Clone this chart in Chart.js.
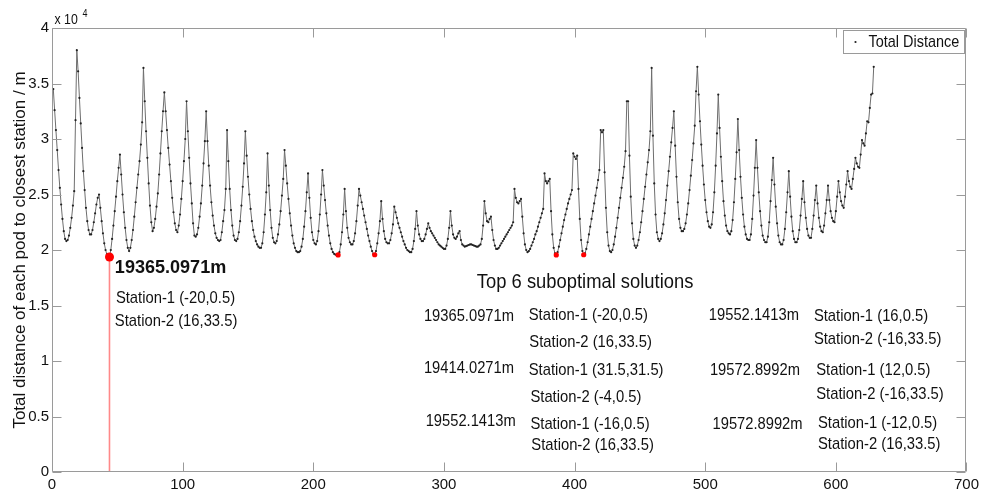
<!DOCTYPE html>
<html>
<head>
    <title>Total distance of each pod to closest station</title>
    <script src="https://cdn.jsdelivr.net/npm/chart.js"></script>
    <style>
        body {
            margin: 0;
            background-color: #ffffff;
        }
    </style>
</head>
<body>
    <canvas id="chart1" width="983" height="493"></canvas>

    <script>
        // Total distance (x 10^4 m) for each candidate station pair, index 1..629
        const distA = [3.45, 3.26, 3.08, 2.90, 2.72, 2.56, 2.41, 2.28, 2.17, 2.10,
            2.08, 2.09, 2.13, 2.20, 2.29, 2.40, 2.53, 3.17, 3.80, 3.61,
            3.37, 3.14, 2.92, 2.71, 2.54, 2.38, 2.26, 2.18, 2.14, 2.14,
            2.18, 2.25, 2.33, 2.41, 2.47, 2.50, 2.38, 2.26, 2.15, 2.06,
            2.00, 1.96, 1.94, 1.9365, 2.00, 2.10, 2.22, 2.35, 2.48, 2.62,
            2.74, 2.86, 2.68, 2.50, 2.34, 2.20, 2.09, 2.02, 1.99, 2.02,
            2.09, 2.18, 2.30, 2.43, 2.56, 2.68, 2.80, 2.95, 3.15, 3.64,
            3.34, 3.07, 2.83, 2.60, 2.40, 2.25, 2.17, 2.20, 2.28, 2.39,
            2.51, 2.68, 2.87, 3.07, 3.25, 3.42, 3.25, 3.08, 2.92, 2.77,
            2.62, 2.47, 2.34, 2.24, 2.18, 2.16, 2.22, 2.32, 2.46, 2.62];
        const distB = [2.80, 3.00, 3.34, 3.07, 2.83, 2.60, 2.42, 2.24, 2.13, 2.12,
            2.14, 2.20, 2.30, 2.42, 2.58, 2.78, 2.98, 3.25, 2.98, 2.76,
            2.58, 2.43, 2.31, 2.22, 2.15, 2.11, 2.09, 2.08, 2.09, 2.16,
            2.26, 2.36, 2.55, 3.08, 2.80, 2.55, 2.36, 2.22, 2.13, 2.09,
            2.08, 2.10, 2.16, 2.26, 2.40, 2.57, 2.78, 3.07, 2.85, 2.66,
            2.50, 2.37, 2.26, 2.18, 2.12, 2.08, 2.05, 2.03, 2.02, 2.02,
            2.06, 2.16, 2.32, 2.52, 2.87, 2.58, 2.36, 2.20, 2.11, 2.07,
            2.06, 2.08, 2.14, 2.23, 2.35, 2.49, 2.64, 2.90, 2.76, 2.60,
            2.46, 2.33, 2.22, 2.13, 2.06, 2.02, 1.99, 1.98, 1.98, 1.99,
            2.03, 2.10, 2.21, 2.35, 2.52, 2.69, 2.47, 2.29, 2.16, 2.09];
        const distC = [2.06, 2.05, 2.08, 2.17, 2.32, 2.50, 2.72, 2.58, 2.45, 2.33,
            2.22, 2.13, 2.06, 2.01, 1.98, 1.965, 1.958, 1.956, 1.9552, 1.98,
            2.05, 2.16, 2.32, 2.55, 2.35, 2.20, 2.11, 2.07, 2.05, 2.05,
            2.08, 2.15, 2.26, 2.40, 2.55, 2.49, 2.43, 2.37, 2.31, 2.25,
            2.19, 2.13, 2.08, 2.03, 1.99, 1.965, 1.9573, 1.99, 2.06, 2.15,
            2.26, 2.44, 2.28, 2.17, 2.10, 2.07, 2.06, 2.06, 2.09, 2.15,
            2.23, 2.39, 2.34, 2.29, 2.24, 2.20, 2.16, 2.12, 2.08, 2.05,
            2.02, 2.00, 1.99, 1.98, 1.98, 2.01, 2.08, 2.19, 2.35, 2.22,
            2.14, 2.10, 2.08, 2.08, 2.10, 2.14, 2.19, 2.24, 2.20, 2.17,
            2.15, 2.13, 2.11, 2.09, 2.07, 2.05, 2.04, 2.03, 2.02, 2.01];
        const distD = [2.01, 2.04, 2.10, 2.20, 2.35, 2.22, 2.14, 2.11, 2.10, 2.12,
            2.15, 2.17, 2.09, 2.05, 2.04, 2.03, 2.035, 2.04, 2.045, 2.05,
            2.05, 2.045, 2.04, 2.035, 2.03, 2.03, 2.04, 2.05, 2.10, 2.22,
            2.44, 2.33, 2.26, 2.25, 2.28, 2.30, 2.18, 2.09, 2.04, 2.01,
            2.01, 2.02, 2.04, 2.06, 2.08, 2.10, 2.12, 2.14, 2.16, 2.18,
            2.20, 2.22, 2.25, 2.55, 2.47, 2.43, 2.42, 2.44, 2.46, 2.30,
            2.15, 2.05, 2.00, 1.98, 1.99, 2.01, 2.04, 2.07, 2.10, 2.14,
            2.17, 2.21, 2.25, 2.29, 2.33, 2.37, 2.69, 2.62, 2.60, 2.62,
            2.64, 2.35, 2.14, 2.02, 1.97, 1.9552, 1.98, 2.03, 2.09, 2.15,
            2.21, 2.27, 2.32, 2.37, 2.42, 2.46, 2.50, 2.54, 2.87, 2.84];
        const distE = [2.82, 2.85, 2.55, 2.28, 2.09, 1.99, 1.9573, 1.97, 2.01, 2.07,
            2.14, 2.21, 2.28, 2.35, 2.42, 2.49, 2.56, 2.63, 2.72, 3.08,
            3.06, 3.08, 2.70, 2.38, 2.16, 2.04, 1.99, 1.98, 2.00, 2.05,
            2.12, 2.20, 2.29, 2.38, 2.47, 2.56, 2.65, 2.75, 2.89, 3.34,
            3.34, 2.85, 2.48, 2.24, 2.10, 2.04, 2.02, 2.04, 2.09, 2.16,
            2.25, 2.35, 2.46, 2.57, 2.68, 2.79, 2.90, 3.07, 3.64, 3.03,
            2.60, 2.32, 2.16, 2.10, 2.08, 2.10, 2.15, 2.23, 2.33, 2.45,
            2.58, 2.71, 2.84, 2.97, 3.10, 3.25, 2.94, 2.66, 2.43, 2.28,
            2.20, 2.17, 2.17, 2.19, 2.24, 2.32, 2.42, 2.54, 2.67, 2.81,
            2.96, 3.12, 3.43, 3.65, 3.40, 3.16, 2.95, 2.76, 2.59, 2.45];
        const distF = [2.34, 2.26, 2.21, 2.20, 2.23, 2.34, 2.52, 2.76, 3.05, 3.40,
            3.10, 2.84, 2.62, 2.44, 2.31, 2.22, 2.17, 2.15, 2.14, 2.17,
            2.27, 2.43, 2.64, 2.88, 3.18, 2.90, 2.66, 2.47, 2.32, 2.21,
            2.14, 2.10, 2.09, 2.09, 2.14, 2.28, 2.49, 2.74, 2.99, 2.74,
            2.52, 2.35, 2.22, 2.13, 2.09, 2.07, 2.07, 2.12, 2.25, 2.44,
            2.63, 2.83, 2.59, 2.39, 2.24, 2.13, 2.07, 2.05, 2.05, 2.09,
            2.19, 2.34, 2.52, 2.71, 2.48, 2.30, 2.17, 2.10, 2.07, 2.07,
            2.10, 2.18, 2.31, 2.46, 2.62, 2.43, 2.29, 2.19, 2.13, 2.11,
            2.11, 2.19, 2.31, 2.45, 2.58, 2.42, 2.29, 2.21, 2.17, 2.16,
            2.22, 2.33, 2.45, 2.58, 2.45, 2.35, 2.29, 2.26, 2.25, 2.35,
            2.48, 2.62, 2.52, 2.44, 2.40, 2.38, 2.48, 2.59, 2.71, 2.62,
            2.57, 2.55, 2.64, 2.73, 2.83, 2.78, 2.75, 2.74, 2.86, 2.99,
            2.96, 2.94, 3.05, 3.16, 3.15, 3.28, 3.40, 3.41, 3.65];

        const totalDistance = [].concat(distA, distB, distC, distD, distE, distF);

        // indices of the marked (sub)optimal solutions, first one is the optimum
        const markedIndex = [44, 219, 247, 386, 407];

        // annotation texts
        const bestLabel = '19365.0971m';
        const bestStations = ['Station-1 (-20,0.5)', 'Station-2 (16,33.5)'];
        const topTitle = 'Top 6 suboptimal solutions';
        const topDistances = ['19365.0971m', '19552.1413m', '19414.0271m', '19572.8992m', '19552.1413m', '19572.8992m'];
        const topStation1 = ['Station-1 (-20,0.5)', 'Station-1 (16,0.5)', 'Station-1 (31.5,31.5)', 'Station-1 (12,0.5)', 'Station-1 (-16,0.5)', 'Station-1 (-12,0.5)'];
        const topStation2 = ['Station-2 (16,33.5)', 'Station-2 (-16,33.5)', 'Station-2 (-4,0.5)', 'Station-2 (-16,33.5)', 'Station-2 (16,33.5)', 'Station-2 (16,33.5)'];

        const FONT = '"Liberation Sans", Arial, Helvetica, sans-serif';
        const TEXT = '#111111';
        const AXIS = '#9a9a9a';

        // where each annotation sits: [x, y] in data units
        const distPos = [[284.7, 1.40], [502.8, 1.414], [284.7, 0.934], [503.6, 0.912], [286.0, 0.453], [505.6, 0.432]];
        const st1Pos = [[364.9, 1.408], [583.2, 1.399], [364.9, 0.913], [585.0, 0.919], [366.2, 0.432], [586.3, 0.439]];
        const st2Pos = [[365.4, 1.171], [583.2, 1.198], [366.2, 0.676], [585.0, 0.703], [366.9, 0.237], [586.3, 0.252]];

        function squeezeText(ctx, str, x, y, size, weight, sx) {
            ctx.save();
            ctx.translate(x, y);
            ctx.scale(sx, 1);
            ctx.font = weight + ' ' + size + 'px ' + FONT;
            ctx.fillStyle = TEXT;
            ctx.textAlign = 'left';
            ctx.textBaseline = 'middle';
            ctx.fillText(str, 0, 0);
            ctx.restore();
        }

        // MATLAB-like box, inner ticks, exponent, legend and text annotations
        const matlabFrame = {
            id: 'matlabFrame',
            afterDraw(chart) {
                const ctx = chart.ctx;
                const a = chart.chartArea;
                const xs = chart.scales.x;
                const ys = chart.scales.y;
                const L = Math.round(a.left) + 0.5, R = Math.round(a.right) - 0.5;
                const T = Math.round(a.top) + 0.5, B = Math.round(a.bottom) - 0.5;
                const tick = 9;

                ctx.save();
                ctx.strokeStyle = AXIS;
                ctx.lineWidth = 1;
                ctx.beginPath();
                ctx.rect(L, T, R - L, B - T);
                xs.ticks.forEach(t => {
                    const px = Math.round(xs.getPixelForValue(t.value)) + 0.5;
                    ctx.moveTo(px, B); ctx.lineTo(px, B - tick);
                    ctx.moveTo(px, T); ctx.lineTo(px, T + tick);
                });
                ys.ticks.forEach(t => {
                    const py = Math.round(ys.getPixelForValue(t.value)) + 0.5;
                    ctx.moveTo(L, py); ctx.lineTo(L + tick, py);
                    ctx.moveTo(R, py); ctx.lineTo(R - tick, py);
                });
                ctx.stroke();

                // exponent of the y axis
                squeezeText(ctx, 'x 10', L + 2, T - 8, 14, 'normal', 0.88);
                squeezeText(ctx, '4', L + 30, T - 14, 10, 'normal', 0.9);

                // legend box
                const lw = 121, lh = 23;
                const lx = Math.round(a.right) - lw - 2 + 0.5, ly = T + 2;
                ctx.fillStyle = '#ffffff';
                ctx.fillRect(lx, ly, lw, lh);
                ctx.strokeStyle = AXIS;
                ctx.strokeRect(lx, ly, lw, lh);
                ctx.fillStyle = '#222222';
                ctx.beginPath();
                ctx.arc(lx + 12, ly + lh / 2, 1.1, 0, Math.PI * 2);
                ctx.fill();
                squeezeText(ctx, 'Total Distance', lx + 25, ly + lh / 2 + 0.5, 17, 'normal', 0.85);

                // annotations
                const P = (p) => [xs.getPixelForValue(p[0]), ys.getPixelForValue(p[1])];
                let q = P([48.1, 1.844]);
                squeezeText(ctx, bestLabel, q[0], q[1], 19, 'bold', 0.95);
                q = P([48.9, 1.565]);
                squeezeText(ctx, bestStations[0], q[0], q[1], 17, 'normal', 0.87);
                q = P([48.1, 1.362]);
                squeezeText(ctx, bestStations[1], q[0], q[1], 17, 'normal', 0.87);
                q = P([325.2, 1.714]);
                squeezeText(ctx, topTitle, q[0], q[1], 21, 'normal', 0.875);
                for (let i = 0; i < topDistances.length; i++) {
                    q = P(distPos[i]);
                    squeezeText(ctx, topDistances[i], q[0], q[1], 17, 'normal', 0.866);
                    q = P(st1Pos[i]);
                    squeezeText(ctx, topStation1[i], q[0], q[1], 17, 'normal', 0.87);
                    q = P(st2Pos[i]);
                    squeezeText(ctx, topStation2[i], q[0], q[1], 17, 'normal', 0.87);
                }
                ctx.restore();
            }
        };

        const ctx1 = document.getElementById('chart1').getContext('2d');
        const chart1 = new Chart(ctx1, {
            type: 'line',
            data: {
                datasets: [{
                    label: 'Marked solutions',
                    data: markedIndex.map(i => ({ x: i, y: totalDistance[i - 1] })),
                    showLine: false,
                    pointRadius: [4.5, 2.6, 2.6, 2.6, 2.6],
                    pointBackgroundColor: '#ff0000',
                    pointBorderWidth: 0,
                    order: 0
                }, {
                    label: 'Total Distance',
                    data: totalDistance.map((v, i) => ({ x: i + 1, y: v })),
                    borderColor: '#6e6e6e',
                    borderWidth: 1,
                    tension: 0,
                    pointRadius: 1.1,
                    pointBackgroundColor: '#222222',
                    pointBorderWidth: 0,
                    order: 1
                }, {
                    label: 'Optimum line',
                    data: [{ x: markedIndex[0], y: 0 }, { x: markedIndex[0], y: totalDistance[markedIndex[0] - 1] }],
                    showLine: true,
                    borderColor: 'rgba(255, 40, 40, 0.55)',
                    backgroundColor: 'rgba(255, 40, 40, 0.55)',
                    borderWidth: 1.6,
                    pointRadius: 0,
                    order: 2
                }]
            },
            options: {
                responsive: false,
                animation: false,
                devicePixelRatio: 1,
                layout: { padding: { top: 28, right: 14, left: 0, bottom: 0 } },
                plugins: {
                    legend: { display: false },
                    tooltip: { enabled: false }
                },
                scales: {
                    x: {
                        type: 'linear',
                        min: 0,
                        max: 700,
                        grid: { display: false, drawTicks: false },
                        border: { display: false },
                        ticks: {
                            stepSize: 100,
                            maxRotation: 0,
                            padding: 4,
                            color: TEXT,
                            font: { family: FONT, size: 15 }
                        },
                        afterFit: s => { s.height = 21; }
                    },
                    y: {
                        min: 0,
                        max: 4,
                        grid: { display: false, drawTicks: false },
                        border: { display: false },
                        ticks: {
                            stepSize: 0.5,
                            padding: 3,
                            color: TEXT,
                            font: { family: FONT, size: 15 },
                            callback: v => String(Number(v))
                        },
                        title: {
                            display: true,
                            text: 'Total distance of each pod to closest station / m',
                            color: TEXT,
                            font: { family: FONT, size: 17 },
                            padding: { top: 10, bottom: 0 }
                        },
                        afterFit: s => { s.width = 52; }
                    }
                }
            },
            plugins: [matlabFrame]
        });
    </script>
</body>
</html>
